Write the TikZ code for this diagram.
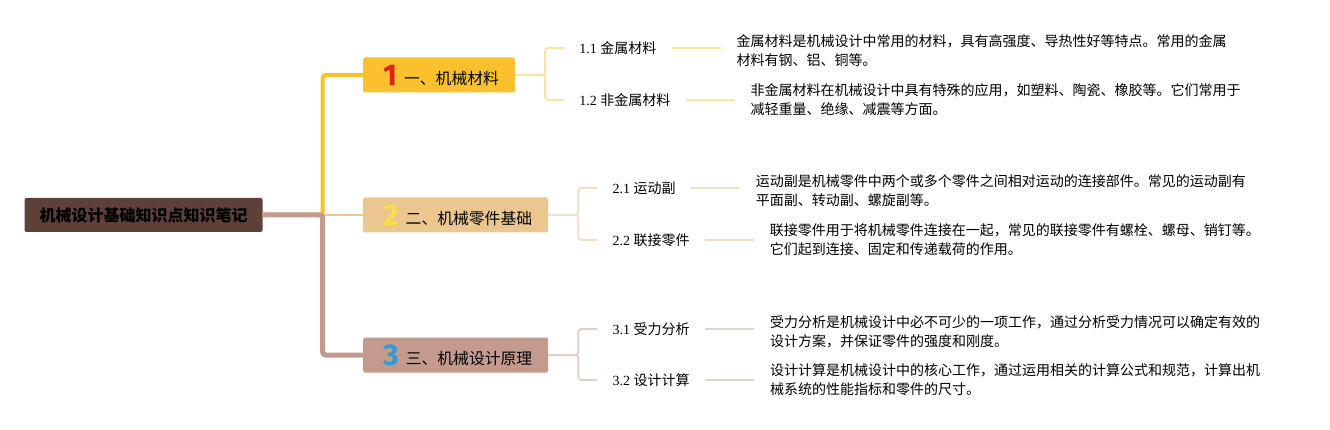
\documentclass[tikz,border=0pt]{standalone}
\usepackage{fontspec}
\setmainfont{Liberation Serif}
\newfontfamily\cjk{Noto Sans CJK SC}
\newfontfamily\numfont{Fira Sans}
\usepackage{xcolor}
\usetikzlibrary{arrows.meta,positioning}

\definecolor{rootbrown}{HTML}{5D4037}
\definecolor{mgold}{HTML}{FBC02D}
\definecolor{mtan}{HTML}{EBC68E}
\definecolor{mrose}{HTML}{C49A8D}
\definecolor{goldlight}{HTML}{FCE3A4}
\definecolor{tanlight}{HTML}{F1DFC4}
\definecolor{roselight}{HTML}{E3D0C9}
\definecolor{numred}{HTML}{E0201B}
\definecolor{numyellow}{HTML}{F6E04A}
\definecolor{numblue}{HTML}{2E9BDA}

\newcommand{\numicon}[2]{\hspace{4pt}\raisebox{-1pt}{\color{#1}\fontsize{30}{30}\numfont\bfseries #2}\hspace{7pt}}
\newcommand{\subtxt}[2]{#1 {\cjk #2}}

\begin{document}
\begin{tikzpicture}[x=1pt,y=-1pt,
      root_node/.style={
         rectangle,
         rounded corners=2pt,
         fill=rootbrown,
         inner xsep=15pt,
         minimum height=34pt,
         font={\fontsize{16}{16}\cjk\bfseries}},
      branch_node/.style={
         rectangle,
         rounded corners=2pt,
         anchor=west,
         inner xsep=16pt,
         inner ysep=0pt,
         minimum height=35pt,
         font={\fontsize{15.8}{16}\cjk}},
      sub_node/.style={
         inner xsep=15pt,
         inner ysep=2pt,
         font={\fontsize{14}{16}\selectfont}},
      desc_node/.style={
         align=left,
         inner xsep=16pt,
         font={\fontsize{14}{19}\cjk}},
      sub_line/.style={
         line width=2pt,
         rounded corners=3pt},
      trunk_line/.style={
         rounded corners=3pt}
]
      \useasboundingbox (0,0) rectangle (1330,430);

      %root
      \node[root_node] (root) at (143.5,215) {机械设计基础知识点知识笔记};

      %main branches
      \node[branch_node,fill=mgold] (b1) at (363,75) {\numicon{numred}{1}一、机械材料};
      \node[branch_node,fill=mtan] (b2) at (363,215) {\numicon{numyellow}{2}二、机械零件基础};
      \node[branch_node,fill=mrose] (b3) at (363,355) {\numicon{numblue}{3}三、机械设计原理};

      %sub topics
      \node[sub_node,right=49pt of b1,yshift=27pt] (s11) {\subtxt{1.1}{金属材料}};
      \node[sub_node,right=49pt of b1,yshift=-25pt] (s12) {\subtxt{1.2}{非金属材料}};
      \node[sub_node,right=49pt of b2,yshift=27pt] (s21) {\subtxt{2.1}{运动副}};
      \node[sub_node,right=49pt of b2,yshift=-25pt] (s22) {\subtxt{2.2}{联接零件}};
      \node[sub_node,right=49pt of b3,yshift=26pt] (s31) {\subtxt{3.1}{受力分析}};
      \node[sub_node,right=49pt of b3,yshift=-25pt] (s32) {\subtxt{3.2}{设计计算}};

      %notes
      \node[desc_node,right=49pt of s11,yshift=-3pt] (d11) {金属材料是机械设计中常用的材料，具有高强度、导热性好等特点。常用的金属\\材料有钢、铝、铜等。};
      \node[desc_node,right=49pt of s12] (d12) {非金属材料在机械设计中具有特殊的应用，如塑料、陶瓷、橡胶等。它们常用于\\减轻重量、绝缘、减震等方面。};
      \node[desc_node,right=49pt of s21,yshift=-3pt] (d21) {运动副是机械零件中两个或多个零件之间相对运动的连接部件。常见的运动副有\\平面副、转动副、螺旋副等。};
      \node[desc_node,right=49pt of s22] (d22) {联接零件用于将机械零件连接在一起，常见的联接零件有螺栓、螺母、销钉等。\\它们起到连接、固定和传递载荷的作用。};
      \node[desc_node,right=49pt of s31,yshift=-3pt] (d31) {受力分析是机械设计中必不可少的一项工作，通过分析受力情况可以确定有效的\\设计方案，并保证零件的强度和刚度。};
      \node[desc_node,right=49pt of s32] (d32) {设计计算是机械设计中的核心工作，通过运用相关的计算公式和规范，计算出机\\械系统的性能指标和零件的尺寸。};

      %trunk
      \draw[trunk_line,draw=mgold,line width=4pt] (root.east) -- ++(60,0) |- (b1.west);
      \draw[draw=mtan,line width=2pt] (root.east) -- (b2.west);
      \draw[trunk_line,draw=mrose,line width=5pt] (root.east) -- ++(60,0) |- (b3.west);

    \foreach \i/\j/\c in {% branch/sub topic/colour
      b1/s11/goldlight, b1/s12/goldlight,
      b2/s21/tanlight, b2/s22/tanlight,
      b3/s31/roselight, b3/s32/roselight}
      \draw[sub_line,draw=\c] (\i.east) -- ++(30,0) |- (\j.west);

    \foreach \i/\j/\c in {% sub topic/note/colour
      s11/d11/goldlight, s12/d12/goldlight,
      s21/d21/tanlight, s22/d22/tanlight,
      s31/d31/roselight, s32/d32/roselight}
      \draw[sub_line,draw=\c] (\i.east) -- (\j.west |- \i.east);

\end{tikzpicture}
\end{document}
